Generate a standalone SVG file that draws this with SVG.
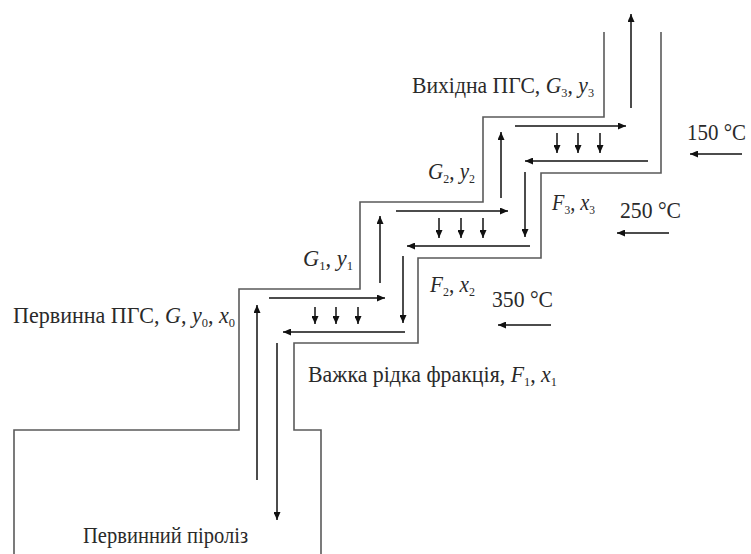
<svg xmlns="http://www.w3.org/2000/svg" width="751" height="554" viewBox="0 0 751 554">
<defs>
<marker id="ah" markerUnits="userSpaceOnUse" markerWidth="9" markerHeight="7" refX="8" refY="3.5" orient="auto">
<path d="M0,0 L8,3.5 L0,7 z" fill="#111"/>
</marker>
<style>
.wall{fill:none;stroke:#5a5a5a;stroke-width:1.6}
.arr{fill:none;stroke:#111;stroke-width:1.5;marker-end:url(#ah)}
.t{font-family:"Liberation Serif","DejaVu Serif",serif;font-size:23px;fill:#2a2a2a}
.i{font-style:italic}
.s{font-size:13px}
</style>
</defs>
<rect width="751" height="554" fill="#fff"/>
<g id="column">
<path class="wall" d="M14,554 V430 H239 V289 H360 V202 H483 V117 H604 V32"/>
<path class="wall" d="M321,554 V430 H294 V343 H418 V258 H541 V173 H661 V32"/>
</g>
<g id="connectors">
<line class="arr" x1="257" y1="480" x2="257" y2="305"/>
<line class="arr" x1="277" y1="343" x2="277" y2="520"/>
<line class="arr" x1="269" y1="298" x2="385" y2="298"/>
<line class="arr" x1="315" y1="307" x2="315" y2="324"/>
<line class="arr" x1="336" y1="307" x2="336" y2="324"/>
<line class="arr" x1="358" y1="307" x2="358" y2="324"/>
<line class="arr" x1="405" y1="332" x2="283" y2="332"/>
<line class="arr" x1="380" y1="283" x2="380" y2="216"/>
<line class="arr" x1="403" y1="256" x2="403" y2="323"/>
<line class="arr" x1="396" y1="211" x2="508" y2="211"/>
<line class="arr" x1="439" y1="218" x2="439" y2="238"/>
<line class="arr" x1="461" y1="218" x2="461" y2="238"/>
<line class="arr" x1="483" y1="218" x2="483" y2="238"/>
<line class="arr" x1="530" y1="246" x2="407" y2="246"/>
<line class="arr" x1="501" y1="198" x2="501" y2="132"/>
<line class="arr" x1="525" y1="172" x2="525" y2="237"/>
<line class="arr" x1="515" y1="126" x2="626" y2="126"/>
<line class="arr" x1="557" y1="133" x2="557" y2="153"/>
<line class="arr" x1="578" y1="133" x2="578" y2="153"/>
<line class="arr" x1="600" y1="133" x2="600" y2="153"/>
<line class="arr" x1="648" y1="161" x2="525" y2="161"/>
<line class="arr" x1="631" y1="108" x2="631" y2="14"/>
<line class="arr" x1="742" y1="154" x2="690" y2="154"/>
<line class="arr" x1="669" y1="233" x2="617" y2="233"/>
<line class="arr" x1="551" y1="325" x2="498" y2="325"/>
</g>
<g id="labels">
<text class="t" x="412" y="93" textLength="182" lengthAdjust="spacingAndGlyphs">Вихідна ПГС, <tspan class="i">G</tspan><tspan class="s" dy="4">3</tspan><tspan dy="-4">, </tspan><tspan class="i">y</tspan><tspan class="s" dy="4">3</tspan></text>
<text class="t" x="428" y="179" textLength="47" lengthAdjust="spacingAndGlyphs"><tspan class="i">G</tspan><tspan class="s" dy="4">2</tspan><tspan dy="-4">, </tspan><tspan class="i">y</tspan><tspan class="s" dy="4">2</tspan></text>
<text class="t" x="303" y="266" textLength="50" lengthAdjust="spacingAndGlyphs"><tspan class="i">G</tspan><tspan class="s" dy="4">1</tspan><tspan dy="-4">, </tspan><tspan class="i">y</tspan><tspan class="s" dy="4">1</tspan></text>
<text class="t" x="552" y="210" textLength="43" lengthAdjust="spacingAndGlyphs"><tspan class="i">F</tspan><tspan class="s" dy="4">3</tspan><tspan dy="-4">, </tspan><tspan class="i">x</tspan><tspan class="s" dy="4">3</tspan></text>
<text class="t" x="430" y="292" textLength="45" lengthAdjust="spacingAndGlyphs"><tspan class="i">F</tspan><tspan class="s" dy="4">2</tspan><tspan dy="-4">, </tspan><tspan class="i">x</tspan><tspan class="s" dy="4">2</tspan></text>
<text class="t" x="13" y="323" textLength="222" lengthAdjust="spacingAndGlyphs">Первинна ПГС, <tspan class="i">G</tspan>, <tspan class="i">y</tspan><tspan class="s" dy="4">0</tspan><tspan dy="-4">, </tspan><tspan class="i">x</tspan><tspan class="s" dy="4">0</tspan></text>
<text class="t" x="308" y="382" textLength="249" lengthAdjust="spacingAndGlyphs">Важка рідка фракція, <tspan class="i">F</tspan><tspan class="s" dy="4">1</tspan><tspan dy="-4">, </tspan><tspan class="i">x</tspan><tspan class="s" dy="4">1</tspan></text>
<text class="t" x="83" y="543" textLength="165" lengthAdjust="spacingAndGlyphs">Первинний піроліз</text>
<text class="t" x="687" y="140" textLength="59" lengthAdjust="spacingAndGlyphs">150 °C</text>
<text class="t" x="620" y="218" textLength="61" lengthAdjust="spacingAndGlyphs">250 °C</text>
<text class="t" x="492" y="307" textLength="61" lengthAdjust="spacingAndGlyphs">350 °C</text>
</g>
</svg>
